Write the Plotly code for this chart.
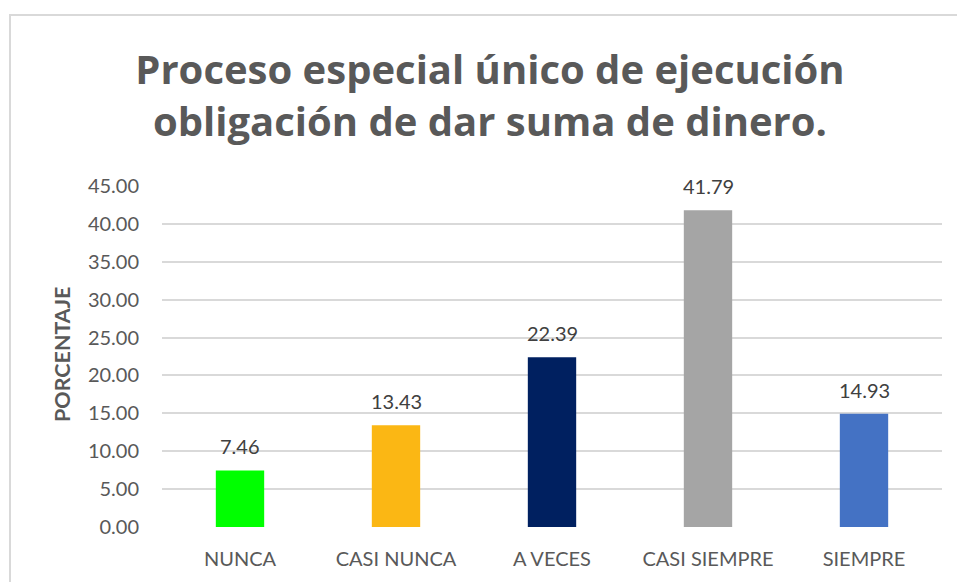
import plotly.graph_objects as go

categories = ["NUNCA", "CASI NUNCA", "A VECES", "CASI SIEMPRE", "SIEMPRE"]
values = [7.46, 13.43, 22.39, 41.79, 14.93]
colors = ["#00FF00", "#FBB714", "#002060", "#A5A5A5", "#4472C4"]
tick_vals = [0, 5, 10, 15, 20, 25, 30, 35, 40, 45]
tick_text = [f"{v:.2f}" for v in tick_vals]

W, H = 957, 582
L, R, T, B = 162, 15, 186, 55
pw, ph = W - L - R, H - T - B

fig = go.Figure(go.Bar(
    x=categories, y=values, marker=dict(color=colors, line=dict(width=0)),
    hoverinfo="x+y",
))

label_annotations = [
    dict(x=c, y=v, xref="x", yref="y", text=f"{v:.2f}", showarrow=False,
         xanchor="center", yanchor="bottom", yshift=10,
         font=dict(size=20, color="#404040", family="Lato"))
    for c, v in zip(categories, values)
]

fig.update_layout(
    width=W, height=H,
    margin=dict(l=L, r=R, t=T, b=B),
    paper_bgcolor="white", plot_bgcolor="white",
    bargap=0.69,
    showlegend=False,
    font=dict(family="Lato", color="#595959"),
    title=dict(
        text="Proceso especial único de ejecución<br>obligación de dar suma de dinero.",
        x=0.512, xanchor="center", y=1 - 84 / H, yanchor="top",
        font=dict(size=40, color="#595959", family="Open Sans", weight="bold"),
    ),
    xaxis=dict(showgrid=False, showline=False, ticks="", ticklabelstandoff=18,
               tickfont=dict(size=20, color="#595959")),
    yaxis=dict(range=[0, 45], tickvals=tick_vals, ticktext=tick_text,
               showgrid=True, gridcolor="#D9D9D9", gridwidth=1.5,
               zeroline=False, showline=False, ticks="", ticklabelstandoff=22,
               tickfont=dict(size=20, color="#595959")),
    shapes=[dict(type="rect", xref="paper", yref="paper",
                 x0=(10 - L) / pw, x1=1.1, y0=-0.5, y1=(H - B - 15) / ph,
                 line=dict(color="#D9D9D9", width=2), layer="below")],
    annotations=label_annotations + [
        dict(text="<b>PORCENTAJE</b>", textangle=-90,
             xref="paper", yref="paper",
             x=(62 - L) / pw, y=(H - B - 355) / ph,
             xanchor="center", yanchor="middle", showarrow=False,
             font=dict(size=21.5, color="#595959", family="Lato"))],
)

fig.write_html("out.html", config={"displayModeBar": False},
               post_script="document.body.style.margin='0';")
